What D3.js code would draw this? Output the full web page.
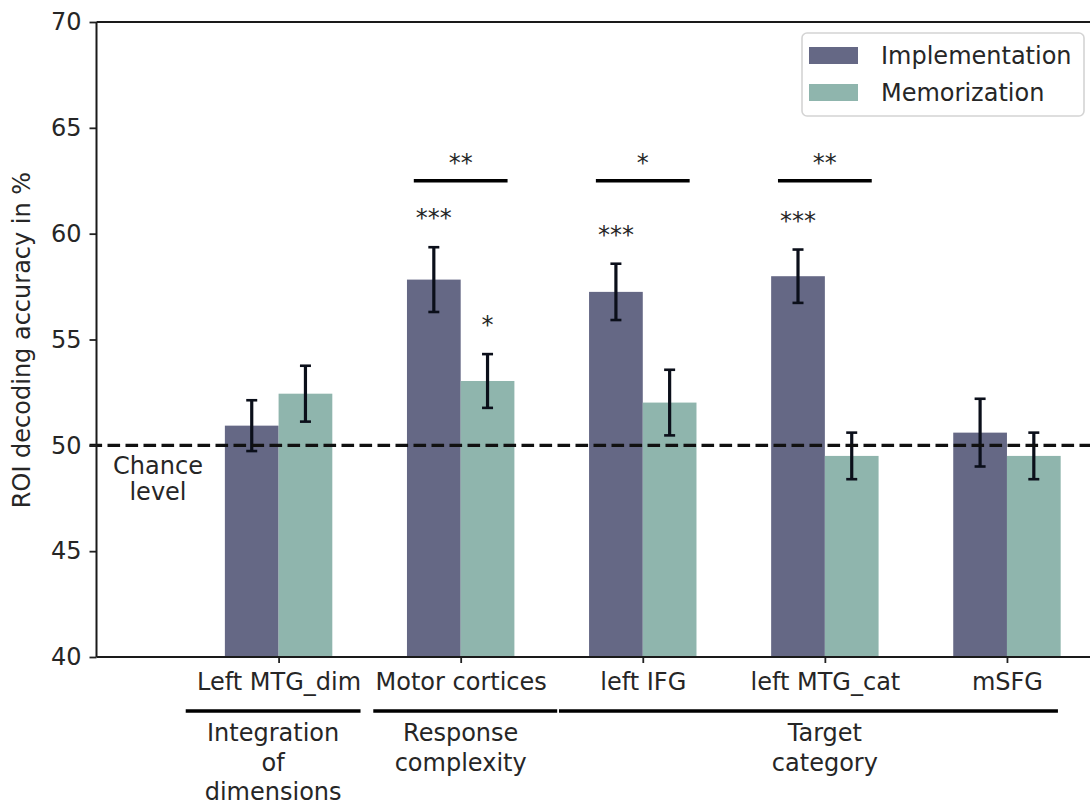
<!DOCTYPE html>
<html>
<head>
<meta charset="utf-8">
<script src="https://cdn.jsdelivr.net/npm/d3@7"></script>
<style>
  body { margin: 0; background: #fff; }
  svg { display: block; font-family: "DejaVu Sans", sans-serif; }
  text { fill: #262626; }
</style>
</head>
<body>
<script>
// ROI decoding accuracy, two conditions per region
var regions = ["Left MTG_dim", "Motor cortices", "left IFG", "left MTG_cat", "mSFG"];
var implMean = [50.93, 57.83, 57.25, 57.99, 50.6];
var implErr = [1.2, 1.53, 1.33, 1.26, 1.6];
var memMean = [52.44, 53.04, 52.02, 49.5, 49.5];
var memErr = [1.32, 1.27, 1.55, 1.1, 1.1];
var implStars = ["", "***", "***", "***", ""];
var memStars = ["", "*", "", "", ""];
var diffStars = ["", "**", "*", "**", ""];
var yTicks = [40, 45, 50, 55, 60, 65, 70];
var chance = 50;
var seriesNames = ["Implementation", "Memorization"];
var groupNames = [["Integration", "of", "dimensions"], ["Response", "complexity"], ["Target", "category"]];
var groupFrom = [0.49, 1.52, 2.54];
var groupTo = [1.45, 2.53, 5.28];
var groupMid = [0.97, 2.0, 4.0];

var width = 1090, height = 806;
var colors = ["#656885", "#8fb5ad"];
var barW = 0.295;

var x = d3.scaleLinear().domain([0, 5.5]).range([96.5, 1098]);
var y = d3.scaleLinear().domain([40, 70]).range([657, 22]);

var svg = d3.select("body").append("svg")
    .attr("width", width)
    .attr("height", height);

var rows = regions.map(function(r, i) {
    return {name: r, pos: i + 1,
        vals: [{m: implMean[i], e: implErr[i], s: implStars[i], k: 0},
               {m: memMean[i], e: memErr[i], s: memStars[i], k: 1}],
        diff: diffStars[i]};
});

// bars
var grp = svg.append("g").selectAll("g")
    .data(rows).enter().append("g");

grp.selectAll("rect")
    .data(function(d) { return d.vals.map(function(v) { return Object.assign({pos: d.pos}, v); }); })
    .enter().append("rect")
    .attr("x", function(d) { return x(d.pos + (d.k - 1) * barW); })
    .attr("width", x(barW) - x(0))
    .attr("y", function(d) { return y(d.m); })
    .attr("height", function(d) { return y(40) - y(d.m); })
    .attr("fill", function(d) { return colors[d.k]; });

// chance line
svg.append("line")
    .attr("x1", x(0) - 7).attr("x2", width)
    .attr("y1", y(chance)).attr("y2", y(chance))
    .attr("stroke", "#111").attr("stroke-width", 3.4)
    .attr("stroke-dasharray", "12.6 5.4");

// error bars
var eb = grp.selectAll("g.err")
    .data(function(d) { return d.vals.map(function(v) { return Object.assign({pos: d.pos}, v); }); })
    .enter().append("g").attr("class", "err")
    .attr("transform", function(d) { return "translate(" + x(d.pos + (d.k - 0.5) * barW) + ",0)"; });
eb.append("line")
    .attr("y1", function(d) { return y(d.m + d.e); })
    .attr("y2", function(d) { return y(d.m - d.e); })
    .attr("stroke", "#0b0f1a").attr("stroke-width", 3.2);
eb.selectAll("line.cap")
    .data(function(d) { return [d.m + d.e, d.m - d.e]; })
    .enter().append("line").attr("class", "cap")
    .attr("x1", -5.5).attr("x2", 5.5)
    .attr("y1", function(v) { return y(v); })
    .attr("y2", function(v) { return y(v); })
    .attr("stroke", "#0b0f1a").attr("stroke-width", 2.6);

// stars above bars
eb.filter(function(d) { return d.s; })
    .append("text")
    .attr("text-anchor", "middle")
    .attr("y", function(d) { return y(d.m + d.e + 1.65) + 14; })
    .attr("font-size", 24)
    .text(function(d) { return d.s; });

// comparison brackets
var cmp = grp.filter(function(d) { return d.diff; });
cmp.append("line")
    .attr("x1", function(d) { return x(d.pos - barW / 2 - 0.11); })
    .attr("x2", function(d) { return x(d.pos + barW / 2 + 0.11); })
    .attr("y1", y(62.5)).attr("y2", y(62.5))
    .attr("stroke", "#000").attr("stroke-width", 3.6);
cmp.append("text")
    .attr("x", function(d) { return x(d.pos); })
    .attr("y", y(63.6) + 14)
    .attr("text-anchor", "middle")
    .attr("font-size", 24)
    .text(function(d) { return d.diff; });

// axes
var yAxis = svg.append("g")
    .attr("transform", "translate(" + x(0) + ",0)")
    .call(d3.axisLeft(y).tickValues(yTicks).tickSize(7).tickPadding(8));
var xAxis = svg.append("g")
    .attr("transform", "translate(0," + y(40) + ")")
    .call(d3.axisBottom(x).tickValues(d3.range(1, 6)).tickSize(6).tickPadding(10)
        .tickFormat(function(d) { return regions[d - 1]; }));
[yAxis, xAxis].forEach(function(a) {
    a.select(".domain").remove();
    a.selectAll("line").attr("stroke", "#222").attr("stroke-width", 1.8);
    a.selectAll("text").attr("font-size", 24).attr("fill", "#262626")
        .attr("font-family", "DejaVu Sans, sans-serif");
});

// spines
svg.append("g").selectAll("line")
    .data([[x(0), y(40), x(0), y(70)], [x(0), y(40), width, y(40)], [x(0), y(70), width, y(70)]])
    .enter().append("line")
    .attr("x1", function(d) { return d[0]; }).attr("y1", function(d) { return d[1]; })
    .attr("x2", function(d) { return d[2]; }).attr("y2", function(d) { return d[3]; })
    .attr("stroke", "#1a1a1a").attr("stroke-width", 2);

// y label
svg.append("text")
    .attr("transform", "translate(30,340) rotate(-90)")
    .attr("text-anchor", "middle")
    .attr("font-size", 24)
    .text("ROI decoding accuracy in %");

// chance label
svg.append("text")
    .attr("x", 158).attr("y", y(chance))
    .attr("text-anchor", "middle")
    .attr("font-size", 24)
    .selectAll("tspan").data(["Chance", "level"]).enter().append("tspan")
    .attr("x", 158)
    .attr("dy", function(d, i) { return i ? 26 : 29; })
    .text(function(d) { return d; });

// group brackets under the x axis
var groups = svg.append("g").selectAll("g")
    .data(groupNames.map(function(n, i) { return {n: n, a: groupFrom[i], b: groupTo[i], c: groupMid[i]}; }))
    .enter().append("g");
groups.append("line")
    .attr("x1", function(d) { return x(d.a); })
    .attr("x2", function(d) { return x(d.b); })
    .attr("y1", 711).attr("y2", 711)
    .attr("stroke", "#000").attr("stroke-width", 3.4);
groups.append("text")
    .attr("text-anchor", "middle")
    .attr("font-size", 24)
    .selectAll("tspan").data(function(d) { return d.n.map(function(t) { return {t: t, c: d.c}; }); })
    .enter().append("tspan")
    .attr("x", function(d) { return x(d.c); })
    .attr("y", function(d, i) { return 741 + i * 29.5; })
    .text(function(d) { return d.t; });

// legend
var lg = svg.append("g").attr("transform", "translate(802,33)");
lg.append("rect")
    .attr("width", 282).attr("height", 83).attr("rx", 5)
    .attr("fill", "#fff").attr("fill-opacity", 0.8)
    .attr("stroke", "#d4d4d4").attr("stroke-width", 1.6);
var li = lg.selectAll("g.item").data(seriesNames).enter().append("g")
    .attr("transform", function(d, i) { return "translate(0," + (i * 37) + ")"; });
li.append("rect")
    .attr("x", 7).attr("y", 14).attr("width", 49).attr("height", 17)
    .attr("fill", function(d, i) { return colors[i]; });
li.append("text")
    .attr("x", 79).attr("y", 31)
    .attr("font-size", 24)
    .text(function(d) { return d; });
</script>
</body>
</html>
